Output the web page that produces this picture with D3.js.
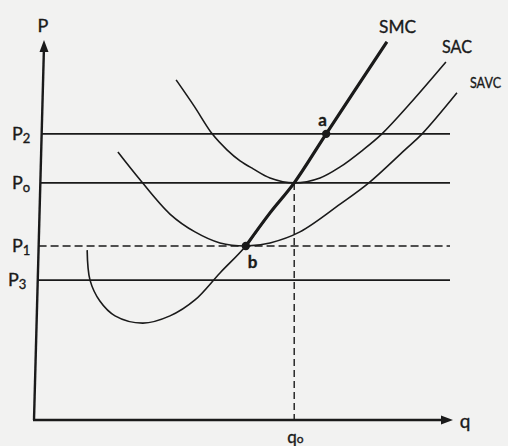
<!DOCTYPE html>
<html>
<head>
<meta charset="utf-8">
<script src="https://cdn.jsdelivr.net/npm/d3@7"></script>
<style>
  body { margin: 0; background: #f2f2f1; }
  svg { display: block; }
  text { font-family: Lato, "Open Sans", sans-serif; fill: #1a1a1a; stroke: #1a1a1a; stroke-width: 0.35; }
</style>
</head>
<body>
<svg width="508" height="446"></svg>
<script>
var svg = d3.select('svg');

// price levels
var priceNames = ['2', '0', '1', '3'];
var priceValues = [75.3, 62.4, 45.8, 36.8];
var priceDashed = [false, false, true, false];

var q0 = 62;

// cost curves as [q, p]
var sac = [[33.2, 89.5], [37.6, 82.6], [42.0, 75.3], [45.6, 71.1], [48.8, 68.2], [52.0, 66.1],
  [56.1, 63.7], [62.0, 62.4], [68.3, 63.7], [73.2, 66.6], [78.8, 71.1], [83.4, 75.3],
  [90.2, 83.2], [99.0, 94.2]];
var savc = [[19.0, 70.5], [24.4, 63.2], [31.7, 54.2], [37.8, 49.5], [43.9, 46.6], [50.2, 45.8],
  [56.1, 46.6], [63.4, 49.5], [73.2, 56.8], [80.2, 62.4], [89.0, 71.1], [93.2, 75.3],
  [101.7, 86.1]];
var smc = [[11.5, 44.7], [12.2, 36.8], [14.6, 31.3], [18.3, 27.4], [25.1, 25.5], [31.7, 27.4],
  [37.8, 31.6], [43.9, 38.7], [50.2, 45.8], [56.1, 54.5], [62.0, 62.4], [69.8, 75.3],
  [84.6, 99.5]];
var smcThickFrom = 8; // index of point b

var points = [{name: 'a', q: 69.8, p: 75.3}, {name: 'b', q: 50.2, p: 45.8}];

var x = d3.scaleLinear().domain([0, 100]).range([40, 450]);
var y = d3.scaleLinear().domain([0, 100]).range([420, 40]);

// the scanned y axis leans a little
function axisX(py) {
  return x(0) + (y(0) - py) / (y(0) - y(100)) * 10 - 6;
}

var ink = '#1a1a1a';

var line = d3.line()
  .x(function(d) { return x(d[0]); })
  .y(function(d) { return y(d[1]); })
  .curve(d3.curveCatmullRom.alpha(0.5));

// price lines
svg.selectAll('.price')
  .data(priceValues)
  .enter()
  .append('line')
  .attr('class', 'price')
  .attr('x1', function(d) { return axisX(y(d)); })
  .attr('x2', x(100))
  .attr('y1', function(d) { return y(d); })
  .attr('y2', function(d) { return y(d); })
  .attr('stroke', ink)
  .attr('stroke-width', 1.6)
  .attr('stroke-dasharray', function(d, i) { return priceDashed[i] ? '8,4' : null; });

// q0 drop line
svg.append('line')
  .attr('x1', x(q0)).attr('x2', x(q0))
  .attr('y1', y(priceValues[1])).attr('y2', y(0))
  .attr('stroke', ink)
  .attr('stroke-width', 1.4)
  .attr('stroke-dasharray', '7,4');

// curves
[sac, savc, smc].forEach(function(c) {
  svg.append('path')
    .attr('d', line(c))
    .attr('fill', 'none')
    .attr('stroke', ink)
    .attr('stroke-width', 1.6);
});

svg.append('path')
  .attr('d', line(smc.slice(smcThickFrom)))
  .attr('fill', 'none')
  .attr('stroke', ink)
  .attr('stroke-width', 3.2);

svg.selectAll('.pt')
  .data(points)
  .enter()
  .append('circle')
  .attr('class', 'pt')
  .attr('cx', function(d) { return x(d.q); })
  .attr('cy', function(d) { return y(d.p); })
  .attr('r', 4.2)
  .attr('fill', ink);

// axes
svg.append('line')
  .attr('x1', axisX(y(0))).attr('y1', y(0))
  .attr('x2', axisX(y(100)) ).attr('y2', y(100) + 6)
  .attr('stroke', ink).attr('stroke-width', 2.4);
svg.append('path')
  .attr('d', 'M' + axisX(y(100)) + ',' + y(100) + 'l-4.5,12l9,0z')
  .attr('fill', ink);

svg.append('line')
  .attr('x1', axisX(y(0)) - 1).attr('y1', y(0))
  .attr('x2', x(100) - 4).attr('y2', y(0))
  .attr('stroke', ink).attr('stroke-width', 2.4);
svg.append('path')
  .attr('d', 'M' + (x(100) + 3) + ',' + y(0) + 'l-12,-4.5l0,9z')
  .attr('fill', ink);

// labels
svg.append('text').attr('x', 43).attr('y', 32).attr('text-anchor', 'middle')
  .attr('font-size', 18).text('P');
svg.append('text').attr('x', 465).attr('y', 428).attr('text-anchor', 'middle')
  .attr('font-size', 19).text('q');

var pl = svg.selectAll('.plab')
  .data(priceValues)
  .enter()
  .append('text')
  .attr('class', 'plab')
  .attr('x', function(d, i) { return i === 3 ? 8 : 12; })
  .attr('y', function(d) { return y(d) + 6; })
  .attr('font-size', 18);
pl.append('tspan').text('P');
pl.append('tspan').attr('font-size', 13).attr('dy', 3)
  .text(function(d, i) { return priceNames[i] === '0' ? 'o' : priceNames[i]; });

var ql = svg.append('text').attr('x', x(q0) - 7).attr('y', 443).attr('font-size', 17);
ql.append('tspan').text('q');
ql.append('tspan').attr('font-size', 12).attr('dy', 0).text('o');

// [text, right edge x, baseline y, width, font size]
var curveLabels = [['SMC', 416, 33, 37, 17], ['SAC', 472, 53, 30, 17], ['SAVC', 501, 88, 31, 15]];
svg.selectAll('.clab')
  .data(curveLabels)
  .enter()
  .append('text')
  .attr('class', 'clab')
  .attr('x', function(d) { return d[1]; })
  .attr('y', function(d) { return d[2]; })
  .attr('text-anchor', 'end')
  .attr('font-size', function(d) { return d[4]; })
  .attr('textLength', function(d) { return d[3]; })
  .attr('lengthAdjust', 'spacingAndGlyphs')
  .text(function(d) { return d[0]; });

svg.selectAll('.ptlab')
  .data(points)
  .enter()
  .append('text')
  .attr('class', 'ptlab')
  .attr('x', function(d) { return d.name === 'a' ? x(d.q) - 8 : x(d.q) + 2; })
  .attr('y', function(d) { return d.name === 'a' ? y(d.p) - 8 : y(d.p) + 22; })
  .attr('font-size', 17)
  .attr('font-weight', 'bold')
  .text(function(d) { return d.name; });
</script>
</body>
</html>
